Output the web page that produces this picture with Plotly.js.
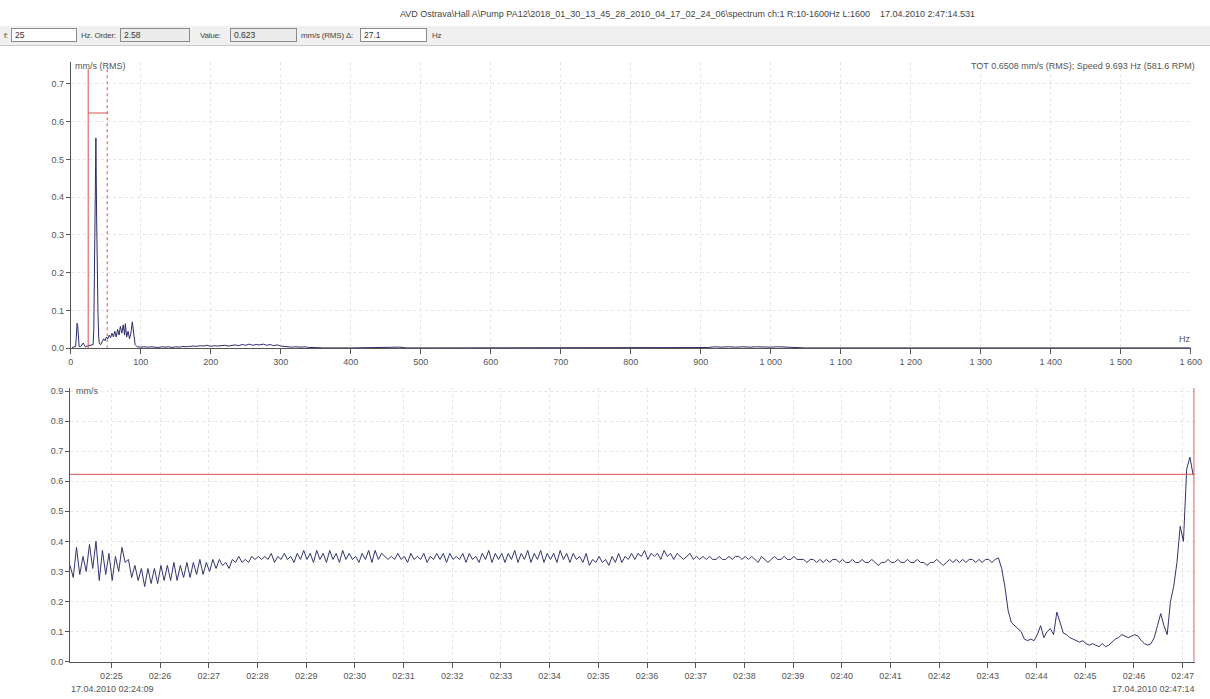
<!DOCTYPE html>
<html>
<head>
<meta charset="utf-8">
<script src="https://cdn.plot.ly/plotly-3.0.1.min.js"></script>
<style>
  html, body { margin:0; padding:0; background:#fff; }
  #wrap { position:relative; width:1210px; height:699px; overflow:hidden; font-family:"Liberation Sans", Arial, sans-serif; }
  #chart { position:absolute; left:0; top:0; width:1210px; height:699px; }
  #bar { position:absolute; left:0; top:26px; width:1210px; height:19px; background:#f0f0f0; border-bottom:1px solid #c8c8c8; z-index:5; font-size:8px; color:#444; }
  .lbl { position:absolute; top:5px; white-space:nowrap; letter-spacing:-0.2px; }
  .box { position:absolute; top:2px; height:14px; border:1px solid #8a8a8a; font-size:8.5px; line-height:13px; padding-left:3px; box-sizing:border-box; color:#333; }
</style>
</head>
<body>
<div id="wrap">
  <div id="chart"></div>
  <div id="bar">
    <span class="lbl" style="left:4px">f:</span>
    <span class="box" style="left:11px;width:66px;background:#fff">25</span>
    <span class="lbl" style="left:81px">Hz. Order:</span>
    <span class="box" style="left:120px;width:70px;background:#ececec">2.58</span>
    <span class="lbl" style="left:200px">Value:</span>
    <span class="box" style="left:230px;width:67px;background:#ececec">0.623</span>
    <span class="lbl" style="left:301px">mm/s (RMS) &Delta;:</span>
    <span class="box" style="left:360px;width:67px;background:#fff">27.1</span>
    <span class="lbl" style="left:432px">Hz</span>
  </div>
</div>
<script>
// ---------------- DATA ----------------
const headerText = "AVD Ostrava\\Hall A\\Pump PA12\\2018_01_30_13_45_28_2010_04_17_02_24_06\\spectrum ch:1 R:10-1600Hz L:1600\u00a0\u00a0\u00a0\u00a017.04.2010 2:47:14.531";
const infoText = "TOT 0.6508 mm/s (RMS); Speed 9.693 Hz (581.6 RPM)";

// Spectrum (Hz, mm/s RMS)
const specHz = [2,5,7,8,9,10,11,12,14,16,18,19,21,24,27,30,32,33,34,35,36,37,38,39,40,41,43,45,47,49,51,53,55,57,59,61,63,65,67,69,71,73,75,77,78,80,82,84,86,88,90,92,95,
  100,105,110,115,120,125,130,135,140,145,150,155,160,165,170,175,180,185,190,195,200,205,210,215,220,225,230,235,240,245,250,255,260,265,270,275,280,285,290,295,300,305,310,315,320,325,330,335,340,350,360,400,430,450,470,480,500,600,700,800,
  900,905,910,920,930,940,950,960,970,980,990,1000,1010,1020,1030,1040,1050,1200,1400,1600];
const specAmp = [0.002,0.003,0.005,0.03,0.066,0.06,0.02,0.005,0.004,0.008,0.014,0.01,0.004,0.006,0.007,0.008,0.01,0.05,0.28,0.525,0.557,0.35,0.18,0.09,0.03,0.012,0.01,0.02,0.025,0.02,0.03,0.025,0.035,0.028,0.04,0.03,0.045,0.03,0.05,0.035,0.058,0.04,0.062,0.035,0.065,0.03,0.045,0.025,0.04,0.07,0.04,0.01,0.004,
  0.003,0.004,0.003,0.004,0.003,0.002,0.004,0.003,0.004,0.002,0.004,0.003,0.005,0.004,0.005,0.006,0.005,0.007,0.006,0.008,0.005,0.007,0.006,0.007,0.008,0.006,0.008,0.009,0.007,0.01,0.008,0.011,0.008,0.01,0.009,0.011,0.008,0.01,0.007,0.009,0.006,0.005,0.004,0.003,0.004,0.003,0.003,0.004,0.002,0.002,0.001,0.001,0.002,0.001,0.003,0.001,0.001,0.001,0.001,0.001,
  0.001,0.003,0.002,0.004,0.003,0.004,0.003,0.004,0.003,0.004,0.003,0.003,0.004,0.003,0.003,0.002,0.001,0.001,0.001,0.001];

// Cursor
const cursorHz = 25;
const deltaHz = 27.1;
const cursorValue = 0.623;

// Trend: overall RMS (mm/s), sampled every 4 s from 17.04.2010 02:24:09
const trendStart = "2010-04-17 02:24:09";
const trendEnd = "2010-04-17 02:47:14";
const trendStepSec = 4;
const trendValues = [
  0.32,0.28,0.38,0.29,0.35,0.30,0.39,0.31,0.40,0.27,0.37,0.29,0.36,0.27,0.35,
  0.30,0.38,0.33,0.34,0.28,0.32,0.27,0.31,0.25,0.31,0.26,0.31,0.26,0.32,0.27,
  0.32,0.27,0.33,0.27,0.32,0.28,0.33,0.28,0.33,0.29,0.34,0.29,0.33,0.30,0.34,
  0.31,0.34,0.32,0.33,0.31,0.34,0.33,0.35,0.33,0.34,0.33,0.35,0.34,0.35,0.34,
  0.35,0.34,0.36,0.33,0.35,0.34,0.36,0.34,0.35,0.33,0.36,0.34,0.37,0.34,0.36,
  0.33,0.37,0.34,0.36,0.33,0.37,0.34,0.36,0.33,0.37,0.34,0.36,0.34,0.35,0.33,
  0.36,0.34,0.37,0.33,0.37,0.34,0.36,0.35,0.34,0.35,0.34,0.36,0.34,0.35,0.33,
  0.36,0.34,0.35,0.34,0.36,0.33,0.35,0.34,0.36,0.34,0.36,0.33,0.36,0.34,0.35,
  0.34,0.36,0.33,0.36,0.34,0.35,0.33,0.36,0.34,0.37,0.33,0.36,0.34,0.36,0.33,
  0.36,0.34,0.37,0.33,0.36,0.34,0.37,0.33,0.36,0.34,0.37,0.33,0.36,0.34,0.36,
  0.33,0.37,0.34,0.36,0.33,0.36,0.34,0.35,0.33,0.36,0.32,0.34,0.33,0.35,0.33,
  0.34,0.32,0.35,0.33,0.36,0.33,0.35,0.34,0.36,0.34,0.36,0.35,0.37,0.34,0.36,
  0.35,0.36,0.34,0.37,0.35,0.36,0.34,0.36,0.35,0.34,0.35,0.36,0.34,0.35,0.34,
  0.35,0.34,0.35,0.34,0.34,0.35,0.34,0.34,0.35,0.34,0.35,0.35,0.34,0.35,0.34,
  0.35,0.34,0.33,0.35,0.34,0.33,0.34,0.35,0.34,0.34,0.35,0.34,0.34,0.35,0.34,
  0.34,0.34,0.33,0.34,0.34,0.33,0.34,0.33,0.34,0.33,0.34,0.34,0.33,0.34,0.33,
  0.33,0.34,0.33,0.33,0.34,0.33,0.33,0.34,0.33,0.32,0.33,0.33,0.34,0.33,0.33,
  0.34,0.33,0.33,0.34,0.33,0.33,0.34,0.33,0.33,0.32,0.33,0.33,0.34,0.33,0.32,
  0.33,0.34,0.33,0.34,0.33,0.34,0.33,0.34,0.34,0.33,0.34,0.33,0.34,0.34,0.33,
  0.34,0.345,0.31,0.25,0.17,0.13,0.12,0.11,0.10,0.075,0.07,0.075,0.07,0.09,0.12,
  0.08,0.10,0.11,0.09,0.165,0.13,0.095,0.09,0.08,0.075,0.07,0.065,0.07,0.06,0.055,
  0.06,0.055,0.05,0.06,0.05,0.055,0.065,0.075,0.08,0.09,0.085,0.08,0.085,0.09,0.085,
  0.07,0.06,0.055,0.06,0.08,0.12,0.16,0.12,0.09,0.20,0.25,0.33,0.45,0.40,0.64,
  0.68,0.62
];

// Tick labels
const spectrumTicks = [0,100,200,300,400,500,600,700,800,900,1000,1100,1200,1300,1400,1500,1600];
const spectrumTickText = ["0","100","200","300","400","500","600","700","800","900","1\u00a0000","1\u00a0100","1\u00a0200","1\u00a0300","1\u00a0400","1\u00a0500","1\u00a0600"];
const startLabel = "17.04.2010 02:24:09";
const endLabel = "17.04.2010 02:47:14";

// ---------------- BUILD ----------------
function pad(n){ return (n<10?'0':'')+n; }
function timeAt(offsetSec){
  const base = 2*3600 + 24*60 + 9 + offsetSec;
  const hh = Math.floor(base/3600), mm = Math.floor((base%3600)/60), ss = base%60;
  return '2010-04-17 ' + pad(hh) + ':' + pad(mm) + ':' + pad(ss);
}
const trendTimes = trendValues.map((v,i)=>timeAt(i*trendStepSec));

const W = 1210, H = 699;
const px = x => x / W;
const py = y => 1 - y / H;

const axisColor = '#555';
const gridColor = '#e6e6e6';
const redColor = '#d9534f';
const tickFont = {family:'Liberation Sans, Arial, sans-serif', size:9, color:'#555'};

const traces = [
  {x: specHz, y: specAmp, type:'scatter', mode:'lines', line:{color:'#2b2b6b', width:1}, xaxis:'x', yaxis:'y', hoverinfo:'x+y'},
  {x: trendTimes, y: trendValues, type:'scatter', mode:'lines', line:{color:'#34346e', width:1}, xaxis:'x2', yaxis:'y2', hoverinfo:'x+y'}
];

const layout = {
  width: W, height: H, autosize:false,
  margin:{l:0,r:0,t:0,b:0},
  paper_bgcolor:'#fff', plot_bgcolor:'#fff',
  showlegend:false,
  font: tickFont,
  xaxis: {
    domain:[px(70.7), px(1190.7)], range:[0,1600], anchor:'y',
    tickvals: spectrumTicks, ticktext: spectrumTickText,
    ticks:'outside', ticklen:5, tickcolor:axisColor, tickwidth:1,
    showline:true, linecolor:axisColor, linewidth:1,
    showgrid:true, gridcolor:gridColor, griddash:'dot', zeroline:false,
    tickfont: tickFont, fixedrange:true
  },
  yaxis: {
    domain:[py(348.3), py(62)], range:[0,0.758], anchor:'x',
    tickvals:[0,0.1,0.2,0.3,0.4,0.5,0.6,0.7], tickformat:'.1f',
    ticks:'outside', ticklen:4, tickcolor:axisColor,
    showline:true, linecolor:axisColor, linewidth:1,
    showgrid:true, gridcolor:gridColor, griddash:'dot', zeroline:false,
    tickfont: tickFont, fixedrange:true
  },
  xaxis2: {
    domain:[px(70), px(1194.8)], range:[trendStart, '2010-04-17 02:47:15'], anchor:'y2', type:'date',
    tick0:'2010-04-17 02:25:00', dtick:60000, tickformat:'%H:%M',
    ticks:'outside', ticklen:5, tickcolor:axisColor,
    showline:true, linecolor:axisColor, linewidth:1,
    showgrid:true, gridcolor:gridColor, griddash:'dot', zeroline:false,
    tickfont: tickFont, fixedrange:true
  },
  yaxis2: {
    domain:[py(661.7), py(388)], range:[0,0.91], anchor:'x2',
    tickvals:[0,0.1,0.2,0.3,0.4,0.5,0.6,0.7,0.8,0.9], tickformat:'.1f',
    ticks:'outside', ticklen:4, tickcolor:axisColor,
    showline:true, linecolor:axisColor, linewidth:1,
    showgrid:true, gridcolor:gridColor, griddash:'dot', zeroline:false,
    tickfont: tickFont, fixedrange:true
  },
  shapes: [
    {type:'line', xref:'x', yref:'y', x0:cursorHz, x1:cursorHz, y0:0, y1:0.74, line:{color:redColor, width:1}},
    {type:'line', xref:'x', yref:'y', x0:cursorHz+deltaHz, x1:cursorHz+deltaHz, y0:0, y1:0.74, line:{color:redColor, width:1, dash:'dot'}},
    {type:'line', xref:'x', yref:'y', x0:cursorHz, x1:cursorHz+deltaHz, y0:cursorValue, y1:cursorValue, line:{color:redColor, width:1}},
    {type:'line', xref:'x2', yref:'y2', x0:trendStart, x1:'2010-04-17 02:47:15', y0:cursorValue, y1:cursorValue, line:{color:redColor, width:1}},
    {type:'line', xref:'x2', yref:'y2', x0:trendEnd, x1:trendEnd, y0:0, y1:0.91, line:{color:redColor, width:1}}
  ],
  annotations: [
    {text: headerText, xref:'paper', yref:'paper', x:px(398), y:py(14), xanchor:'left', yanchor:'middle', showarrow:false, font:{family:'Liberation Sans, Arial, sans-serif', size:9, color:'#444'}},
    {text: 'mm/s (RMS)', xref:'paper', yref:'paper', x:px(73), y:py(66), xanchor:'left', yanchor:'middle', showarrow:false, font:tickFont},
    {text: infoText, xref:'paper', yref:'paper', x:px(1197), y:py(66), xanchor:'right', yanchor:'middle', showarrow:false, font:tickFont},
    {text: 'Hz', xref:'paper', yref:'paper', x:px(1193), y:py(339), xanchor:'right', yanchor:'middle', showarrow:false, font:tickFont},
    {text: 'mm/s', xref:'paper', yref:'paper', x:px(74), y:py(391), xanchor:'left', yanchor:'middle', showarrow:false, font:tickFont},
    {text: startLabel, xref:'paper', yref:'paper', x:px(69), y:py(689), xanchor:'left', yanchor:'middle', showarrow:false, font:tickFont},
    {text: endLabel, xref:'paper', yref:'paper', x:px(1197), y:py(689), xanchor:'right', yanchor:'middle', showarrow:false, font:tickFont}
  ]
};

Plotly.newPlot('chart', traces, layout, {displayModeBar:false, staticPlot:true});
</script>
</body>
</html>
